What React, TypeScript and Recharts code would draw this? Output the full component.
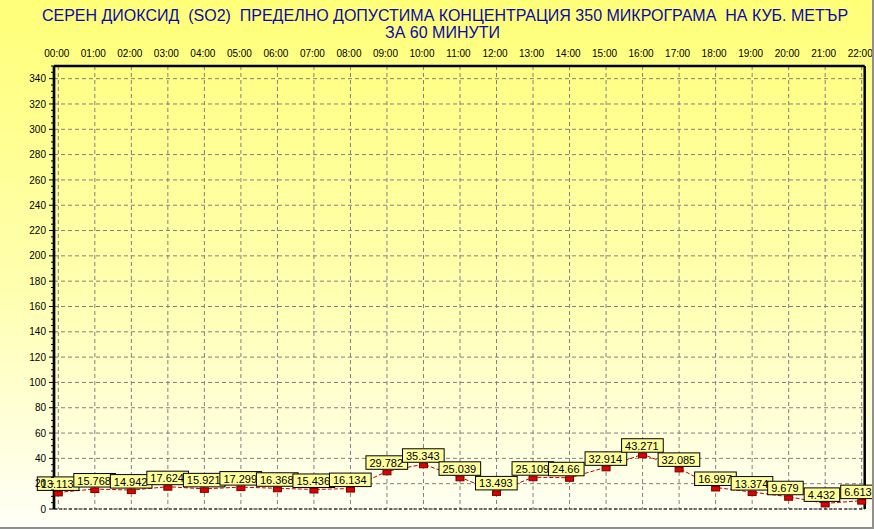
import React from 'react';
import { LineChart, Line, XAxis, YAxis, CartesianGrid, ReferenceLine } from 'recharts';

const hours = ['00:00', '01:00', '02:00', '03:00', '04:00', '05:00', '06:00', '07:00', '08:00', '09:00', '10:00', '11:00',
  '12:00', '13:00', '14:00', '15:00', '16:00', '17:00', '18:00', '19:00', '20:00', '21:00', '22:00'];
const so2Values = [13.113, 15.768, 14.942, 17.624, 15.921, 17.299, 16.368, 15.436, 16.134, 29.782, 35.343, 25.039,
  13.493, 25.109, 24.66, 32.914, 43.271, 32.085, 16.997, 13.374, 9.679, 4.432, 6.613];
const majorYTicks = [0, 20, 40, 60, 80, 100, 120, 140, 160, 180, 200, 220, 240, 260, 280, 300, 320, 340];
const minorYTicks = Array.from({ length: 71 }, (_, i) => i * 5);
const titleLines = [
  'СЕРЕН ДИОКСИД  (SO2)  ПРЕДЕЛНО ДОПУСТИМА КОНЦЕНТРАЦИЯ 350 МИКРОГРАМА  НА КУБ. МЕТЪР',
  'ЗА 60 МИНУТИ',
];

const data = hours.map((h, i) => ({ time: h, so2: so2Values[i] }));

const FONT = "Arial, 'Liberation Sans', sans-serif";

const YTick = (props: any) => {
  const { x, y, payload } = props;
  const v = payload.value;
  const major = majorYTicks.includes(v);
  return (
    <g>
      <line x1={major ? x - 5 : x - 3} x2={x} y1={y} y2={y} stroke="#000" strokeWidth={1} />
      {major && (
        <text x={x - 8} y={y + 3.6} textAnchor="end" fontSize={10} fill="#000" fontFamily={FONT}>
          {v}
        </text>
      )}
    </g>
  );
};

const XTick = (props: any) => {
  const { x, y, payload } = props;
  return (
    <text x={x - 1.5} y={y - 9.3} textAnchor="middle" fontSize={10} fill="#000" fontFamily={FONT}>
      {payload.value}
    </text>
  );
};

const textWidth = (s: string) => s.split('').reduce((w, ch) => w + (ch === '.' ? 3.06 : 6.12), 0);

const renderPoint = (props: any) => {
  const { cx, cy, index, payload } = props;
  const label = String(payload.so2);
  const w = textWidth(label) + 8;
  return (
    <g key={`pt-${index}`}>
      <rect x={cx - 4} y={cy - 1} width={8} height={4.5} fill="#e00000" stroke="#7a0000" strokeWidth={1} />
      <rect x={cx - 21} y={cy - 15.5} width={w} height={13.5} fill="#ffff9c" stroke="#000" strokeWidth={1} />
      <text x={cx - 17.5} y={cy - 4.5} fontSize={11} fill="#000" fontFamily={FONT}>
        {label}
      </text>
    </g>
  );
};

export default function App() {
  return (
    <div
      style={{
        position: 'absolute',
        left: 0,
        top: 0,
        width: 874,
        height: 529,
        background: 'linear-gradient(to bottom, #ffff78 0%, #ffffb0 55%, #fffff8 100%)',
        overflow: 'hidden',
      }}
    >
      <svg width={874} height={50} style={{ position: 'absolute', left: 0, top: 0 }}>
        <text x={445} y={20.5} textAnchor="middle" fontSize={16} fill="#0a0aa8" fontFamily={FONT} xmlSpace="preserve" style={{ whiteSpace: 'pre' }}>
          {titleLines[0]}
        </text>
        <text x={442.5} y={37.5} textAnchor="middle" fontSize={16} fill="#0a0aa8" fontFamily={FONT} xmlSpace="preserve" style={{ whiteSpace: 'pre' }}>
          {titleLines[1]}
        </text>
      </svg>
      <div style={{ position: 'absolute', left: 0, top: 0 }}>
        <LineChart width={874} height={529} data={data} margin={{ top: 36, left: 4, right: 8.3, bottom: 20 }}>
          <CartesianGrid
            stroke="#808080"
            strokeDasharray="4 3"
            horizontalValues={majorYTicks}
          />
          <XAxis
            dataKey="time"
            orientation="top"
            height={30}
            padding={{ left: 4.3, right: 3 }}
            interval={0}
            tickSize={0}
            tickMargin={0}
            tickLine={false}
            tick={<XTick />}
            axisLine={{ stroke: '#000', strokeWidth: 2.5 }}
          />
          <YAxis
            type="number"
            domain={[0, 350]}
            ticks={minorYTicks}
            interval={0}
            width={50}
            tickSize={0}
            tickMargin={0}
            tickLine={false}
            tick={<YTick />}
            axisLine={{ stroke: '#000', strokeWidth: 2.7 }}
          />
          <YAxis
            yAxisId="frame"
            orientation="right"
            type="number"
            domain={[0, 350]}
            width={1}
            tick={false}
            tickLine={false}
            axisLine={{ stroke: '#000', strokeWidth: 2.5 }}
          />
          <ReferenceLine y={0} stroke="#000" strokeDasharray="3 2" strokeWidth={1} />
          <Line
            type="linear"
            dataKey="so2"
            stroke="#c00000"
            strokeWidth={1}
            strokeDasharray="4 2"
            dot={renderPoint}
            activeDot={false}
            isAnimationActive={false}
          />
        </LineChart>
      </div>
      <div
        style={{
          position: 'absolute',
          left: 0,
          top: 0,
          width: 874,
          height: 529,
          boxSizing: 'border-box',
          borderRight: '2px solid #909090',
          borderBottom: '2px solid #909090',
          pointerEvents: 'none',
        }}
      />
    </div>
  );
}
